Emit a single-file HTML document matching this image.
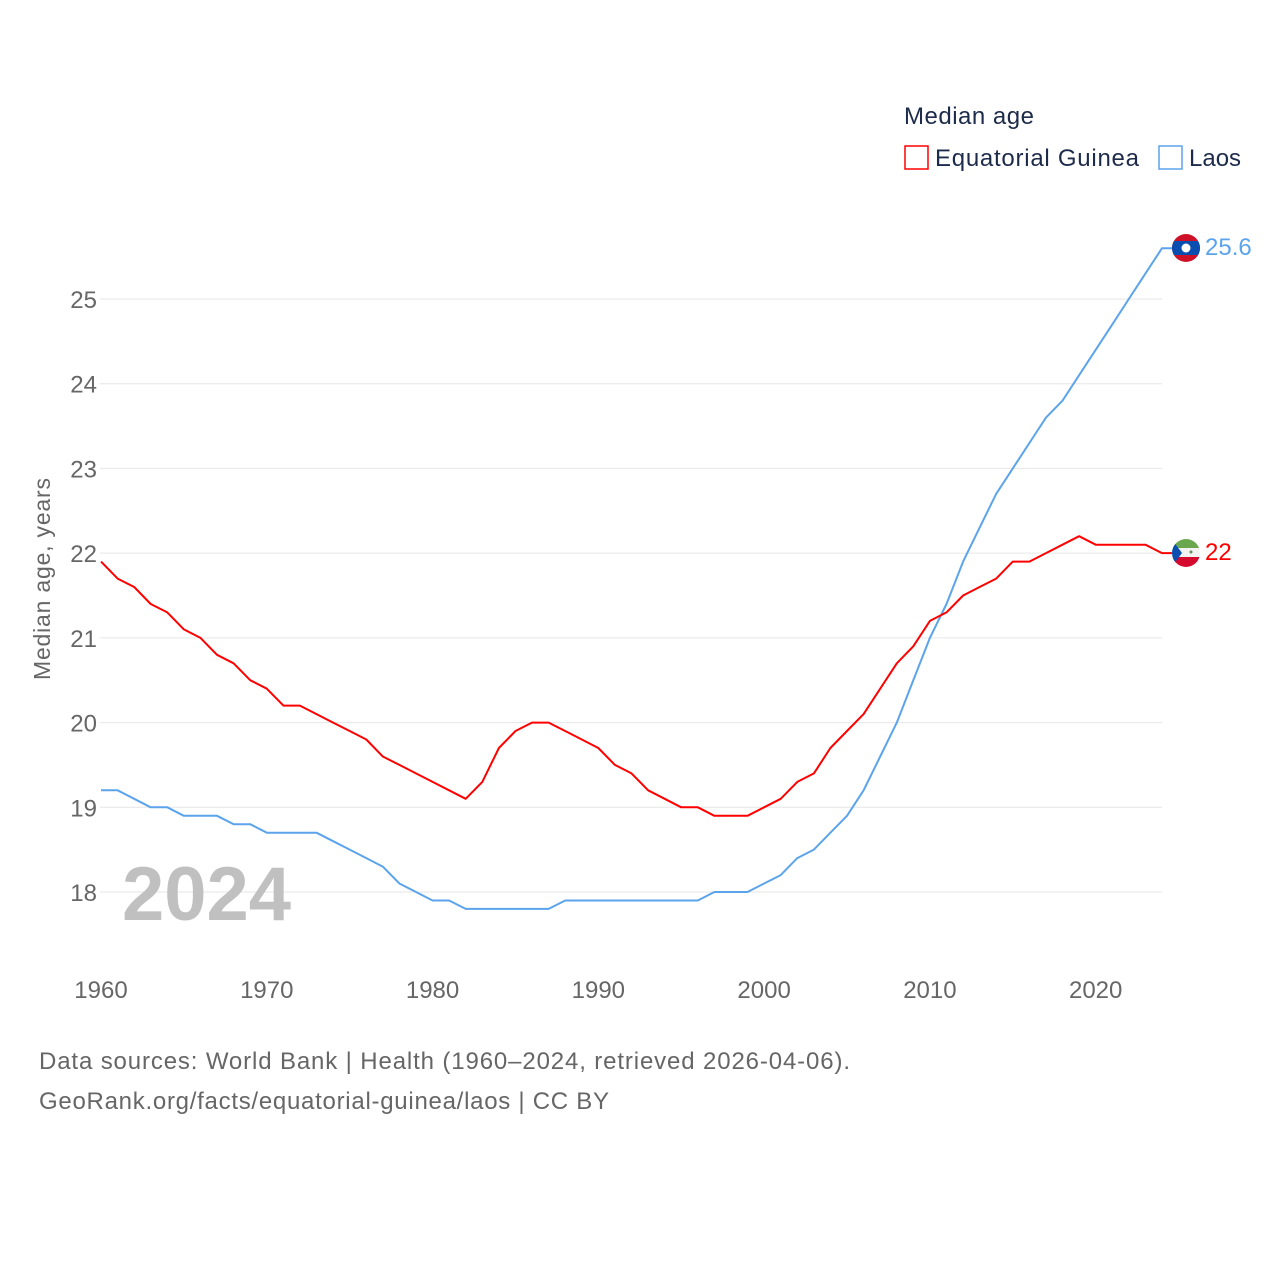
<!DOCTYPE html>
<html><head><meta charset="utf-8"><style>
html,body{margin:0;padding:0;background:#fff;}
svg{display:block;font-family:"Liberation Sans",sans-serif;}
</style></head><body>
<svg id="chart" width="1280" height="1280" viewBox="0 0 1280 1280">
<text x="904" y="124" font-size="24" fill="#1d2b4a" textLength="130">Median age</text>
<g>
<rect x="905" y="146" width="23" height="23" fill="none" stroke="#ff0000" stroke-width="1.5"/>
<text x="935" y="166" font-size="24" fill="#1d2b4a" textLength="204">Equatorial Guinea</text>
</g>
<g>
<rect x="1159" y="146" width="23" height="23" fill="none" stroke="#5ba4ec" stroke-width="1.5"/>
<text x="1189" y="166" font-size="24" fill="#1d2b4a">Laos</text>
</g>
<g id="grid"></g>
<g id="yticks"></g>
<g id="xticks"></g>
<text transform="translate(50,579) rotate(-90)" text-anchor="middle" font-size="23" fill="#666" textLength="202">Median age, years</text>
<text x="122" y="920" font-size="76" font-weight="bold" fill="#c0c0c0">2024</text>
<g id="series"></g>
<g>
<clipPath id="cl"><circle cx="1186" cy="248" r="14"/></clipPath>
<g clip-path="url(#cl)"><rect x="1170" y="232" width="32" height="32" fill="#ce1126"/><rect x="1170" y="241" width="32" height="14" fill="#0a4fb0"/><circle cx="1186" cy="248" r="4.5" fill="#fff"/></g>
</g>
<g>
<clipPath id="ce"><circle cx="1186" cy="553" r="14"/></clipPath>
<g clip-path="url(#ce)"><rect x="1170" y="537" width="32" height="11" fill="#6aa84f"/><rect x="1170" y="548" width="32" height="9" fill="#f2f2f2"/><rect x="1170" y="557" width="32" height="12" fill="#d60a2e"/><polygon points="1170,537 1182,553 1170,569" fill="#0a4fb0"/><circle cx="1191" cy="552" r="1.5" fill="#6a8a5a"/></g>
</g>
<text x="1205" y="255" font-size="24" fill="#5ba4ec">25.6</text>
<text x="1205" y="560" font-size="24" fill="#ff0000">22</text>
<text x="39" y="1069" font-size="24" fill="#666" textLength="811">Data sources: World Bank | Health (1960–2024, retrieved 2026-04-06).</text>
<text x="39" y="1109" font-size="24" fill="#666" textLength="570">GeoRank.org/facts/equatorial-guinea/laos | CC BY</text>
</svg>
<script>
const years = [];
for (let y = 1960; y <= 2024; y++) years.push(y);
const eqGuinea = [21.9,21.7,21.6,21.4,21.3,21.1,21.0,20.8,20.7,20.5,20.4,20.2,20.2,20.1,20.0,19.9,19.8,19.6,19.5,19.4,19.3,19.2,19.1,19.3,19.7,19.9,20.0,20.0,19.9,19.8,19.7,19.5,19.4,19.2,19.1,19.0,19.0,18.9,18.9,18.9,19.0,19.1,19.3,19.4,19.7,19.9,20.1,20.4,20.7,20.9,21.2,21.3,21.5,21.6,21.7,21.9,21.9,22.0,22.1,22.2,22.1,22.1,22.1,22.1,22.0];
const laos = [19.2,19.2,19.1,19.0,19.0,18.9,18.9,18.9,18.8,18.8,18.7,18.7,18.7,18.7,18.6,18.5,18.4,18.3,18.1,18.0,17.9,17.9,17.8,17.8,17.8,17.8,17.8,17.8,17.9,17.9,17.9,17.9,17.9,17.9,17.9,17.9,17.9,18.0,18.0,18.0,18.1,18.2,18.4,18.5,18.7,18.9,19.2,19.6,20.0,20.5,21.0,21.4,21.9,22.3,22.7,23.0,23.3,23.6,23.8,24.1,24.4,24.7,25.0,25.3,25.6];
const yTicks = [18,19,20,21,22,23,24,25];
const xTicks = [1960,1970,1980,1990,2000,2010,2020];
const NS = 'http://www.w3.org/2000/svg';
const X = v => 101 + (v - 1960) * (1061 / 64);
const Y = v => 892 - (v - 18) * (593 / 7);
const grid = document.getElementById('grid');
const yt = document.getElementById('yticks');
yTicks.forEach(t => {
  const l = document.createElementNS(NS, 'line');
  
  
  l.setAttribute('x1', 100); l.setAttribute('x2', 1162);
  l.setAttribute('y1', Y(t)); l.setAttribute('y2', Y(t));
  l.setAttribute('stroke', '#e6e6e6'); l.setAttribute('stroke-width', '1');
  grid.appendChild(l);
  const tx = document.createElementNS(NS, 'text');
  
  
  tx.setAttribute('x', 97); tx.setAttribute('y', Y(t) + 9);
  tx.setAttribute('text-anchor', 'end'); tx.setAttribute('font-size', '24'); tx.setAttribute('fill', '#666');
  tx.textContent = t;
  yt.appendChild(tx);
});
const xt = document.getElementById('xticks');
xTicks.forEach(t => {
  const tx = document.createElementNS(NS, 'text');
  
  
  tx.setAttribute('x', X(t)); tx.setAttribute('y', 998);
  tx.setAttribute('text-anchor', 'middle'); tx.setAttribute('font-size', '24'); tx.setAttribute('fill', '#666');
  tx.textContent = t;
  xt.appendChild(tx);
});
const series = document.getElementById('series');
function draw(vals, color, name) {
  const pts = vals.map((v, i) => X(years[i]).toFixed(1) + ',' + Y(v).toFixed(1));
  pts.push('1172,' + Y(vals[vals.length - 1]).toFixed(1));
  const p = document.createElementNS(NS, 'polyline');
  
  
  p.setAttribute('points', pts.join(' '));
  p.setAttribute('fill', 'none'); p.setAttribute('stroke', color); p.setAttribute('stroke-width', '2');
  p.setAttribute('stroke-linejoin', 'round');
  series.appendChild(p);
}
draw(laos, '#5ba4ec', 'line-laos');
draw(eqGuinea, '#ff0000', 'line-equatorial-guinea');
</script>
</body></html>
